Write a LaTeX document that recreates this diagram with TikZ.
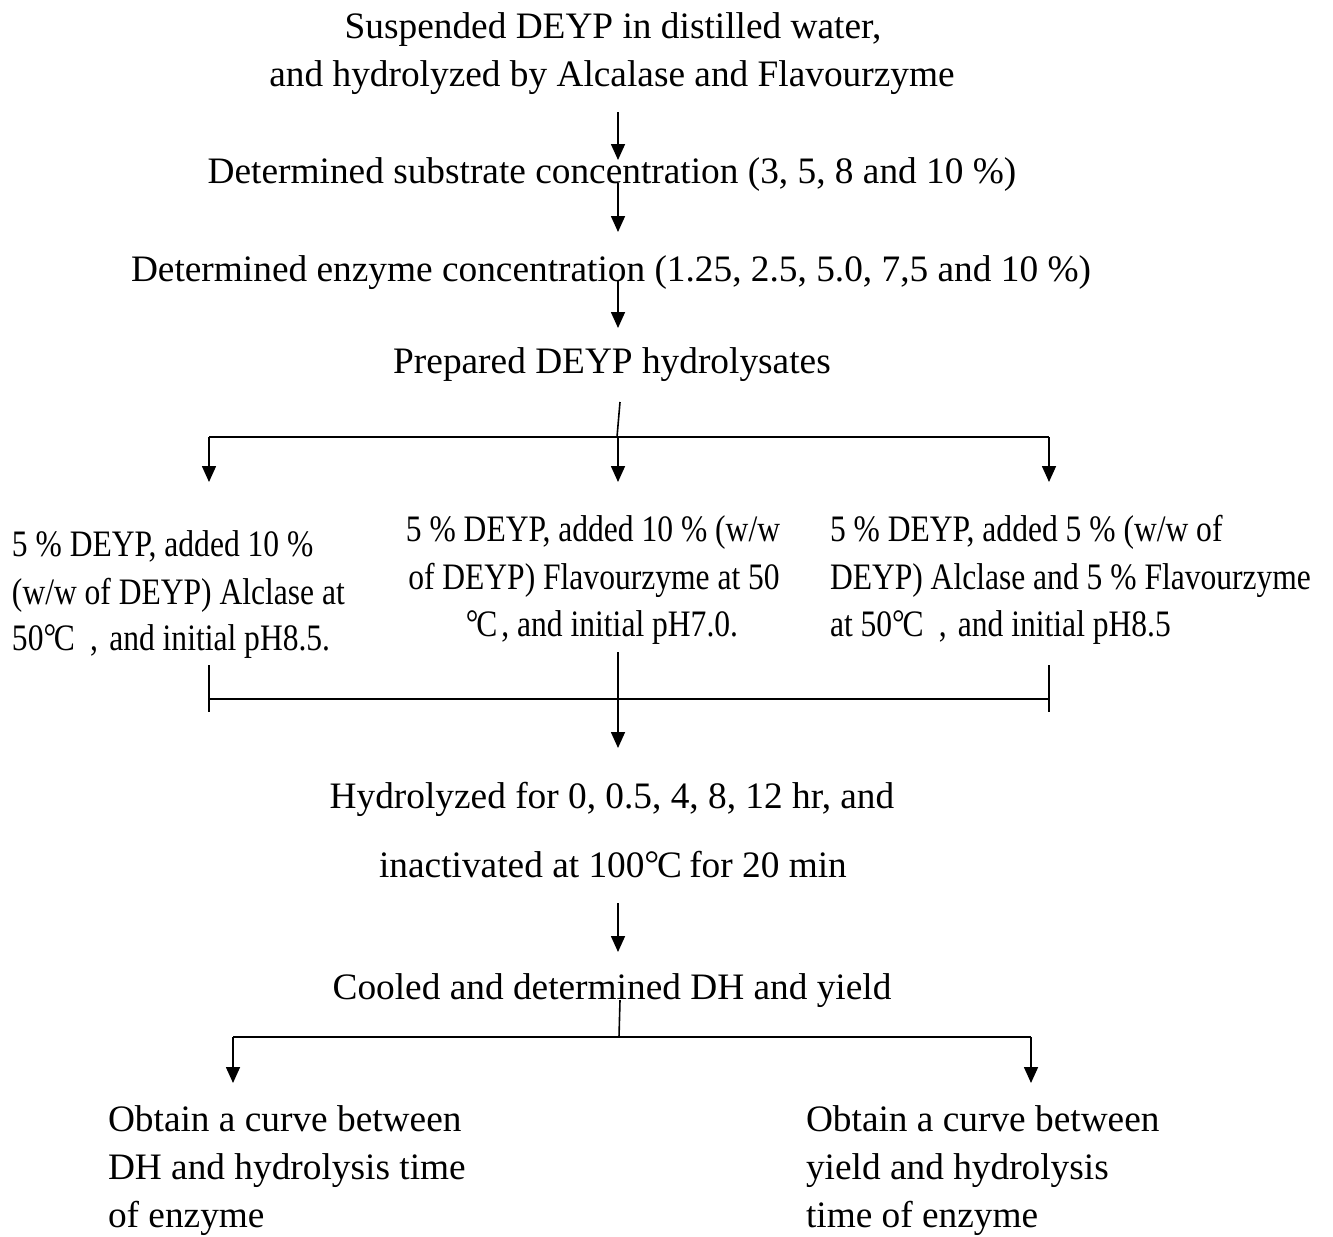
\documentclass[tikz,border=0pt]{standalone}
\usepackage{fontspec}
\setmainfont{Liberation Serif}
\newfontfamily\narrowfont{Liberation Serif}[FakeStretch=0.845]
\usetikzlibrary{arrows.meta}
\newcommand{\degC}{\makebox[0.95em][l]{\raisebox{0.02em}{°}\kern-0.06em C}}
\newcommand{\fwcomma}{\hspace{0.3em},\hspace{0.3em}}
\begin{document}
\begin{tikzpicture}[x=0.75pt,y=-0.75pt,
  every node/.style={inner sep=0pt,outer sep=0pt},
  maintext/.style={font=\fontsize{28}{36}\selectfont,anchor=base},
  lefttext/.style={font=\fontsize{28}{36}\selectfont,anchor=base west},
  boxtext/.style={font=\narrowfont\fontsize{28}{36}\selectfont,anchor=base west},
  boxtextc/.style={font=\narrowfont\fontsize{28}{36}\selectfont,anchor=base},
  conn/.style={line width=1.2pt,black},
  arr/.style={line width=1.2pt,black,-{Triangle[length=12pt,width=10.5pt]}}]
\useasboundingbox (0,0) rectangle (1333,1236);

% texts
\node[maintext] (t1a) at (613,38) {Suspended DEYP in distilled water,};
\node[maintext] (t1b) at (612,86) {and hydrolyzed by Alcalase and Flavourzyme};
\node[maintext] (t2) at (612,183) {Determined substrate concentration (3, 5, 8 and 10 \%)};
\node[maintext] (t3) at (611,281) {Determined enzyme concentration (1.25, 2.5, 5.0, 7,5 and 10 \%)};
\node[maintext] (t4) at (612,373) {Prepared DEYP hydrolysates};

\node[boxtext] (l1) at (12,556) {5 \% DEYP, added 10 \%};
\node[boxtext] (l2) at (12,604) {(w/w of DEYP) Alclase at};
\node[boxtext] (l3) at (12,650) {50\degC\fwcomma{}and initial pH8.5.};

\node[boxtextc] (m1) at (593,541) {5 \% DEYP, added 10 \% (w/w};
\node[boxtextc] (m2) at (594,589) {of DEYP) Flavourzyme at 50};
\node[boxtextc] (m3) at (602,636) {\degC, and initial pH7.0.};

\node[boxtext] (r1) at (830,541) {5 \% DEYP, added 5 \% (w/w of};
\node[boxtext] (r2) at (830,589) {DEYP) Alclase and 5 \% Flavourzyme};
\node[boxtext] (r3) at (830,636) {at 50\degC\fwcomma{}and initial pH8.5};

\node[maintext] (t5a) at (612,808) {Hydrolyzed for 0, 0.5, 4, 8, 12 hr, and};
\node[maintext] (t5b) at (613,877) {inactivated at 100\degC\ for 20 min};
\node[maintext] (t6) at (612,999) {Cooled and determined DH and yield};

\node[lefttext] (b1a) at (108,1131) {Obtain a curve between};
\node[lefttext] (b1b) at (108,1179) {DH and hydrolysis time};
\node[lefttext] (b1c) at (108,1227) {of enzyme};
\node[lefttext] (b2a) at (806,1131) {Obtain a curve between};
\node[lefttext] (b2b) at (806,1179) {yield and hydrolysis};
\node[lefttext] (b2c) at (806,1227) {time of enzyme};

% coordinates
\coordinate (a1s) at (618,112); \coordinate (a1e) at (618,160);
\coordinate (a2s) at (618,183); \coordinate (a2e) at (618,232);
\coordinate (a3s) at (618,280); \coordinate (a3e) at (618,328);
\coordinate (s1t) at (620,402); \coordinate (s1b) at (617,437);
\coordinate (hL) at (209,437); \coordinate (hM) at (618,437); \coordinate (hR) at (1049,437);
\coordinate (hLe) at (209,482); \coordinate (hMe) at (618,482); \coordinate (hRe) at (1049,482);
\coordinate (tLt) at (209,665); \coordinate (tLb) at (209,712);
\coordinate (tRt) at (1049,665); \coordinate (tRb) at (1049,712);
\coordinate (jL) at (209,699); \coordinate (jR) at (1049,699);
\coordinate (a4s) at (618,652); \coordinate (a4e) at (618,748);
\coordinate (a5s) at (618,903); \coordinate (a5e) at (618,952);
\coordinate (s2t) at (620,1000); \coordinate (s2b) at (619,1037);
\coordinate (gL) at (233,1037); \coordinate (gR) at (1031,1037);
\coordinate (gLe) at (233,1083); \coordinate (gRe) at (1031,1083);

% connectors
\draw[arr] (a1s) -- (a1e);
\draw[arr] (a2s) -- (a2e);
\draw[arr] (a3s) -- (a3e);
\draw[conn] (s1t) -- (s1b);
\draw[conn] (hL) -- (hR);
\draw[arr] (hL) -- (hLe);
\draw[arr] (hM) -- (hMe);
\draw[arr] (hR) -- (hRe);
\draw[conn] (tLt) -- (tLb);
\draw[conn] (tRt) -- (tRb);
\draw[conn] (jL) -- (jR);
\draw[arr] (a4s) -- (a4e);
\draw[arr] (a5s) -- (a5e);
\draw[conn] (s2t) -- (s2b);
\draw[conn] (gL) -- (gR);
\draw[arr] (gL) -- (gLe);
\draw[arr] (gR) -- (gRe);
\end{tikzpicture}
\end{document}
